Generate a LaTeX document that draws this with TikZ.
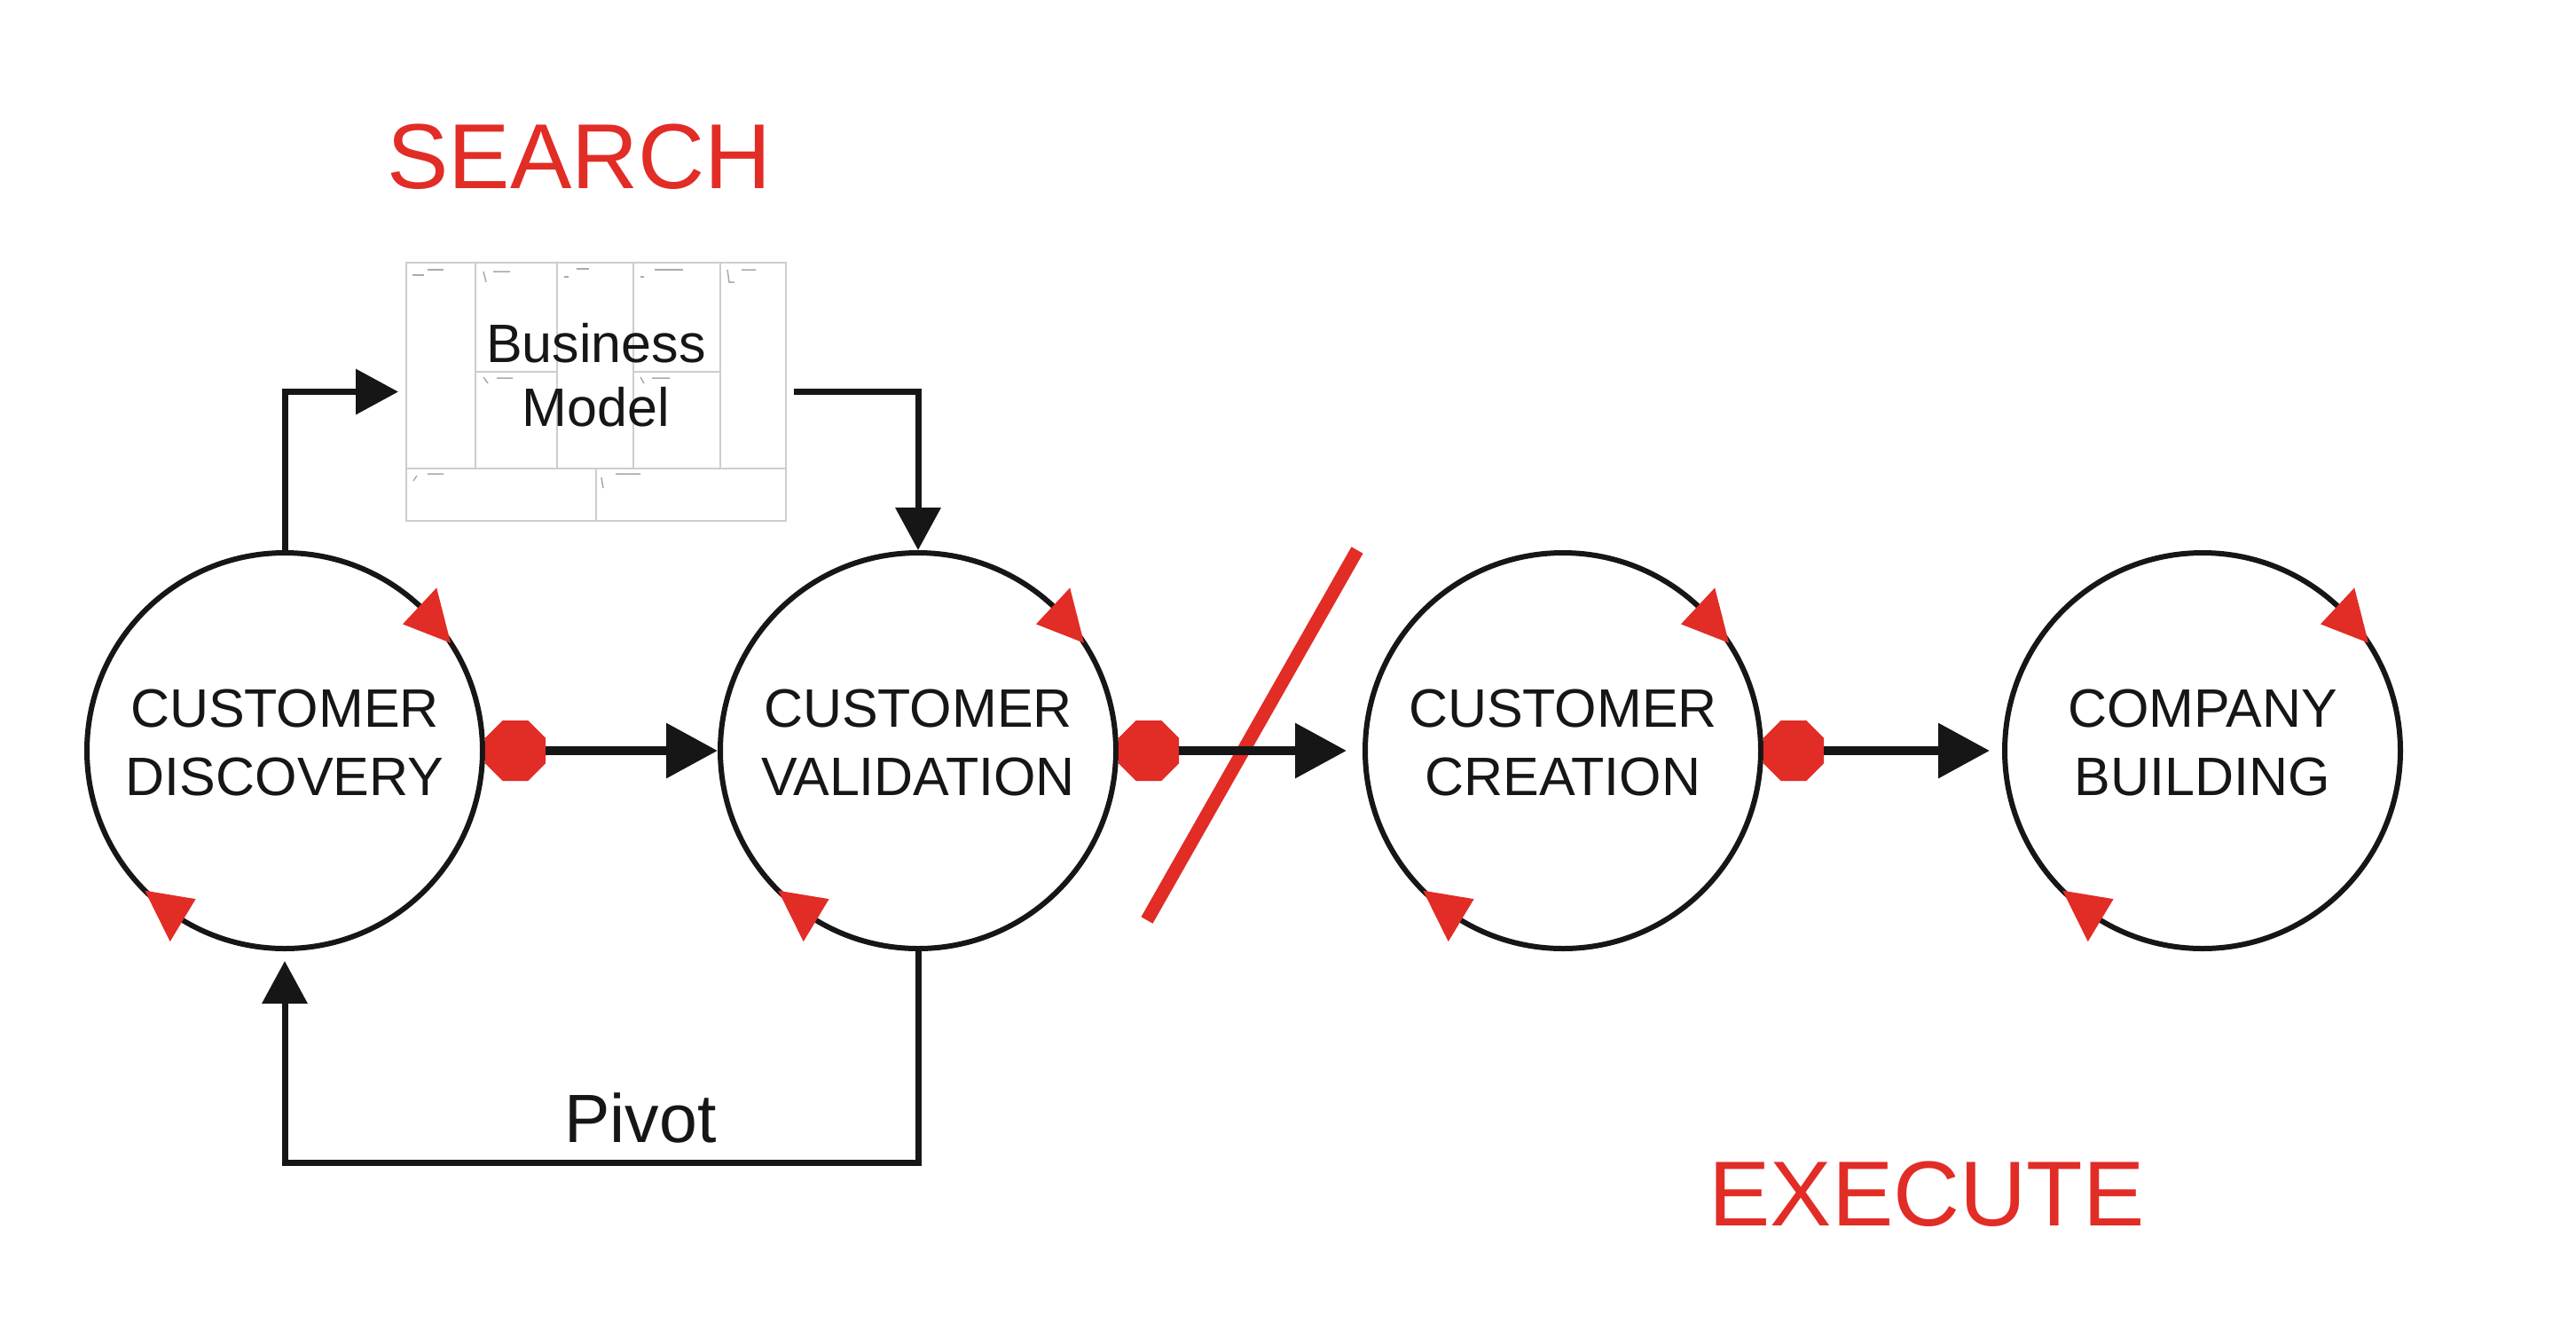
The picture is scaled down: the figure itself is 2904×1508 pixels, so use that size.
\documentclass[tikz,border=0pt]{standalone}
\usepackage{fontspec}
\setmainfont{Liberation Sans}
\usetikzlibrary{arrows.meta,shapes.geometric,calc}
\definecolor{accent}{RGB}{226,44,38}
\definecolor{ink}{RGB}{22,22,22}
\definecolor{gridgray}{RGB}{205,205,205}
\definecolor{labelgray}{RGB}{170,170,170}
\begin{document}
\begin{tikzpicture}[x=1pt,y=-1pt,
  stage/.style={circle,draw=ink,line width=6pt,minimum size=446pt,inner sep=0pt},
  stagetext/.style={align=center,inner sep=0pt,text=ink,font=\fontsize{61}{77}\selectfont},
  gate/.style={regular polygon,regular polygon sides=8,fill=accent,inner sep=0pt,minimum size=74pt},
  flow/.style={line width=10pt,draw=ink,-{Triangle[length=58pt,width=60pt]}},
  elbow/.style={line width=7pt,draw=ink,-{Triangle[length=48pt,width=50pt]}},
  headline/.style={text=accent,font=\fontsize{104}{120}\selectfont,inner sep=0pt},
  canvasline/.style={draw=gridgray,line width=2pt},
  tinylabel/.style={draw=labelgray,line width=1.5pt},
  ]
\useasboundingbox (0,0) rectangle (2904,1508);
\fill[white] (0,0) rectangle (2904,1508);

% titles
\node[headline] (search) at (653,177) {SEARCH};
\node[headline] (execute) at (2172,1346) {EXECUTE};

% business model canvas
\node[draw=gridgray,line width=2pt,minimum width=428pt,minimum height=291pt,inner sep=0pt] (bm) at (672,441.5) {};
\draw[canvasline] (536,296) -- (536,528);
\draw[canvasline] (628,296) -- (628,528);
\draw[canvasline] (714,296) -- (714,528);
\draw[canvasline] (812,296) -- (812,528);
\draw[canvasline] (458,528) -- (886,528);
\draw[canvasline] (672,528) -- (672,587);
\draw[canvasline] (536,419) -- (628,419);
\draw[canvasline] (714,419) -- (812,419);
% faint cell labels
\draw[tinylabel] (465,310) -- (478,310) (482,304) -- (500,304);
\draw[tinylabel] (545,306) -- (548,318) (556,306) -- (575,306);
\draw[tinylabel] (636,312) -- (641,312) (650,303) -- (664,303);
\draw[tinylabel] (722,312) -- (726,312) (738,304) -- (770,304);
\draw[tinylabel] (820,304) -- (822,318) -- (828,318) (836,304) -- (852,304);
\draw[tinylabel] (545,425) -- (550,432) (560,426) -- (578,426);
\draw[tinylabel] (722,425) -- (726,432) (735,426) -- (755,426);
\draw[tinylabel] (466,542) -- (470,536) (482,534) -- (500,534);
\draw[tinylabel] (678,538) -- (680,550) (694,534) -- (722,534);
\node[align=center,inner sep=0pt,text=ink,font=\fontsize{61}{72}\selectfont] (bmt) at (672,423) {Business\\Model};

% stages
\node[stage] (cd) at (321,846) {};
\node[stage] (cv) at (1035,846) {};
\node[stage] (cc) at (1762,846) {};
\node[stage] (cb) at (2483,846) {};
\node[stagetext] (cdt) at (321,837) {CUSTOMER\\DISCOVERY};
\node[stagetext] (cvt) at (1035,837) {CUSTOMER\\VALIDATION};
\node[stagetext] (cct) at (1762,837) {CUSTOMER\\CREATION};
\node[stagetext] (cbt) at (2483,837) {COMPANY\\BUILDING};

% red cycle arrowheads
\foreach \c in {cd,cv,cc,cb}{
  \fill[accent] ($(\c)+(-33:223)$) -- ($(\c)+(-47:251)$) -- ($(\c)+(-47:195)$) -- cycle;
  \fill[accent] ($(\c)+(135:223)$) -- ($(\c)+(121:251)$) -- ($(\c)+(121:195)$) -- cycle;
}

% gates
\node[gate] (g1) at ($(cd.east)+(34,0)$) {};
\node[gate] (g2) at ($(cv.east)+(34,0)$) {};
\node[gate] (g3) at ($(cc.east)+(34,0)$) {};

% red slash
\coordinate (s1) at (1293,1037);
\coordinate (s2) at (1530,620);
\draw[accent,line width=15pt] (s1) -- (s2);

% flow arrows
\draw[flow] (g1.east) -- (cv.west);
\draw[flow,shorten >=18pt] (g2.east) -- (cc.west);
\draw[flow,shorten >=14pt] (g3.east) -- (cb.west);

% business model loop
\draw[elbow,shorten >=8pt] (cd.north) |- (bm.west);
\draw[elbow,shorten <=8pt] (bm.east) -| (cv.north);

% pivot
\coordinate (pv) at (0,1310);
\draw[elbow,shorten >=11pt] (cv.south) -- (cv.south |- pv) -| (cd.south);
\node[inner sep=0pt,text=ink,font=\fontsize{77}{90}\selectfont] (pivot) at (722,1260) {Pivot};
\end{tikzpicture}
\end{document}
